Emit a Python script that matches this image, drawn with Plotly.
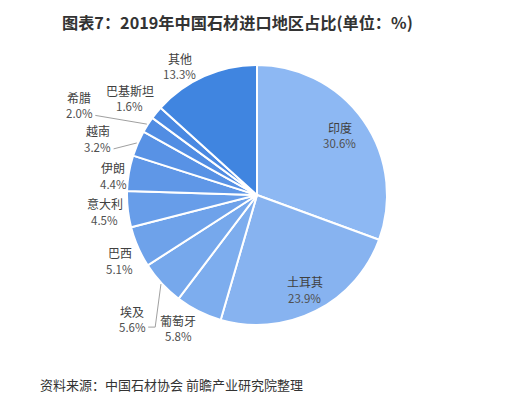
import math
import plotly.graph_objects as go

# page body has an 8px default margin; compensate
OFF = 8
W, H = 516 - OFF, 396 - OFF

labels = ["印度", "土耳其", "葡萄牙", "埃及", "巴西", "意大利", "伊朗", "越南", "希腊", "巴基斯坦", "其他"]
values = [30.6, 23.9, 5.8, 5.6, 5.1, 4.5, 4.4, 3.2, 2.0, 1.6, 13.3]
colors = ["#8DB8F3", "#87B3F0", "#7DADEE", "#76A8EC", "#6EA2EA", "#679DE9", "#5F97E7",
          "#5892E5", "#518DE3", "#4A89E2", "#4085E0"]

# label placement style: radius (px) and angle nudge (deg)
lab_r = [102, 106, 155, 176, 152, 153, 145, 169, 199, 160, 150]
lab_da = [-1, 0, 4, -2, -2, 0, -2, -4, -6, -2, -7]
leader = [False, False, False, True, False, False, False, True, True, False, False]

cx, cy, R = 257, 195, 130


def px(x):
    return (x - OFF) / W


def py(y):
    return 1 - (y - OFF) / H


fig = go.Figure(go.Pie(
    labels=labels, values=values, sort=False, direction="clockwise", rotation=0,
    marker=dict(colors=colors, line=dict(color="white", width=2)),
    textinfo="none", hoverinfo="label+percent",
    domain=dict(x=[px(cx - R), px(cx + R)], y=[py(cy + R), py(cy - R)]),
    showlegend=False,
))

total = sum(values)
cum = 0
ann = []
shapes = []
for i, (lab, v) in enumerate(zip(labels, values)):
    mid = (cum + v / 2) / total * 360
    cum += v
    a = math.radians(mid + lab_da[i])
    x = cx + lab_r[i] * math.sin(a)
    y = cy - lab_r[i] * math.cos(a)
    ann.append(dict(x=px(x), y=py(y - 8), xref="paper", yref="paper", text=lab,
                    xanchor="center", yanchor="middle",
                    showarrow=False, font=dict(size=12, color="#404040", family="Noto Sans CJK SC")))
    ann.append(dict(x=px(x), y=py(y + 8), xref="paper", yref="paper", text=f"{v:.1f}%",
                    xanchor="center", yanchor="middle",
                    showarrow=False, font=dict(size=11.5, color="#505050", family="Noto Sans CJK SC")))
    if leader[i]:
        am = math.radians(mid)
        ex = cx + (R + 1) * math.sin(am)
        ey = cy - (R + 1) * math.cos(am)
        if mid < 270:
            kx = x + 23
            shapes.append(dict(type="path", xref="paper", yref="paper",
                               path=f"M {px(ex)},{py(ey)} L {px(kx)},{py(y + 8)} L {px(kx - 7)},{py(y + 8)}",
                               line=dict(color="#A0A0A0", width=1)))
        else:
            kx, ky = x + 16, y + 10
            shapes.append(dict(type="line", xref="paper", yref="paper",
                               x0=px(ex), y0=py(ey), x1=px(kx), y1=py(ky),
                               line=dict(color="#A0A0A0", width=1)))

ann.append(dict(x=px(60), y=py(22), xref="paper", yref="paper", xanchor="left", yanchor="middle",
                text="<b>图表7：2019年中国石材进口地区占比(单位：%)</b>", showarrow=False,
                font=dict(size=16.2, color="#333333", family="Noto Sans CJK SC")))
ann.append(dict(x=px(38), y=py(384), xref="paper", yref="paper", xanchor="left", yanchor="middle",
                text="资料来源：中国石材协会 前瞻产业研究院整理", showarrow=False,
                font=dict(size=13, color="#333333", family="Noto Sans CJK SC")))

fig.update_layout(width=W, height=H, margin=dict(l=0, r=0, t=0, b=0),
                  paper_bgcolor="white", plot_bgcolor="white",
                  annotations=ann, shapes=shapes)
fig.write_html("out.html")
